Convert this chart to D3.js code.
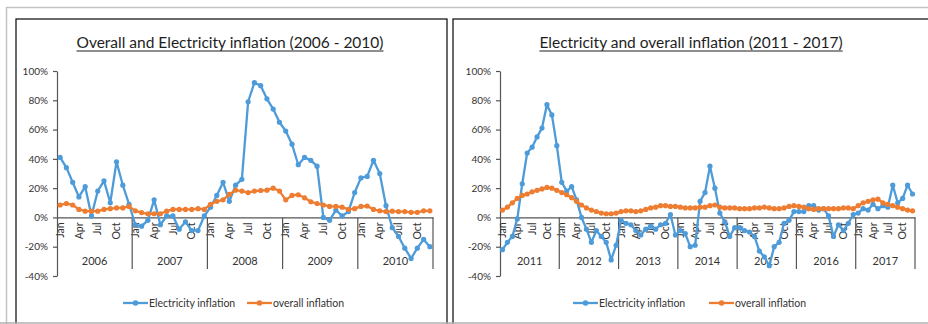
<!DOCTYPE html>
<html>
<head>
<meta charset="utf-8">
<script src="https://cdn.jsdelivr.net/npm/d3@7"></script>
<style>
body { margin: 0; background: #fff; }
svg text { font-family: Lato, "Open Sans", sans-serif; }
</style>
</head>
<body>
<div id="chart"></div>
<script>
//------------------------------ data ------------------------------
var months = ["Jan","Feb","Mar","Apr","May","Jun","Jul","Aug","Sep","Oct","Nov","Dec"];
var yTicks = [-40, -20, 0, 20, 40, 60, 80, 100];
var seriesNames = ["Electricity inflation", "overall inflation"];

var yearsA = ["2006","2007","2008","2009","2010"];
var elecA = [
	41, 34, 24, 14, 21, 1, 18, 25, 10, 38, 22, 9,
	-5, -6, -2, 12, -5, 1, 1, -8, -3, -9, -9, 1,
	7, 15, 24, 11, 22, 26, 79, 92, 90, 81, 74, 65,
	59, 50, 36, 41, 39, 35, 0, -2, 5, 1, 4, 17,
	27, 28, 39, 30, 8, -7, -13, -21, -28, -21, -15, -20
];
var overallA = [
	8.5, 9.5, 8.5, 5.5, 4.3, 4.3, 4.3, 5.5, 6, 6.5, 6.5, 7.5,
	4.5, 3.3, 2.5, 2.5, 2.5, 4.3, 5.5, 5.5, 5.5, 5.5, 6, 5.5,
	9, 11, 12, 15.7, 18.6, 18, 17, 18, 18.4, 18.6, 20, 18,
	12, 15, 15.5, 13.4, 10.7, 9.5, 8.5, 7.5, 7.5, 7, 5.5, 6,
	7.5, 7.8, 5.5, 4.5, 4, 4.3, 4, 4, 3.5, 3.5, 4.5, 4.5
];

var yearsB = ["2011","2012","2013","2014","2015","2016","2017"];
var elecB = [
	-22, -17, -13, -1, 23, 44, 48, 55, 61, 77, 70, 49,
	24, 18, 21, 12, 0, -8, -17, -9, -13, -17, -29, -19,
	-2, -4, -5, -9, -12, -8, -6, -8, -5, -4, 2, -12,
	-9, -11, -20, -19, 11, 17, 35, 20, 3, -3, -13, -7,
	-7, -9, -10, -13, -23, -27, -33, -20, -17, -4, -2, 4,
	4, 4, 8, 8, 5, 6, 1, -13, -5, -9, -4, 2,
	3, 6, 5, 9, 6, 8, 7, 22, 10, 13, 22, 16
];
var overallB = [
	5, 7, 10, 13, 15, 16, 17.5, 18.5, 19.5, 20.5, 20, 18.5,
	17, 15.5, 13.5, 11, 8.5, 6.5, 5, 4, 3, 2.5, 2.5, 3,
	4, 4.5, 4.5, 4, 4.5, 5.5, 6.5, 7, 8, 8, 7.5, 7.5,
	7, 6.5, 6.5, 6.5, 7, 7, 8, 8.5, 7, 6.5, 6.5, 6.5,
	6, 6, 6, 6.5, 6.5, 7, 6.5, 6, 6, 6.5, 7.5, 8,
	7.5, 7, 6, 5.5, 6, 6, 6, 6, 6, 6.5, 6.5, 6,
	8, 10, 11, 12, 12.5, 10, 9, 8, 7, 6, 5, 4.5
];

var colors = ["#4e9bd9", "#ee7d31"];
var textColor = "#333";

//------------------------------ svg ------------------------------
var width = 928, height = 324;
var svg = d3.select("#chart").append("svg")
	.attr("width", width)
	.attr("height", height);

svg.append("rect").attr("width", width).attr("height", height).style("fill", "#fff");

// outer frame of the screenshot
svg.append("path")
	.attr("d", "M6.5,330 V7.5 H928")
	.style("fill", "none").style("stroke", "#c4c4c4").style("stroke-width", 1.5);

var y = d3.scaleLinear().domain([-40, 100]).range([276, 71]);

function drawPanel(cfg) {
	var g = svg.append("g");

	// panel border
	g.append("rect")
		.attr("x", cfg.box[0]).attr("y", cfg.box[1])
		.attr("width", cfg.box[2]).attr("height", cfg.box[3])
		.style("fill", "#fff").style("stroke", "#1a1a1a").style("stroke-width", 1.3);

	// title
	var title = g.append("text")
		.attr("x", cfg.titleX).attr("y", 48)
		.attr("text-anchor", "middle")
		.style("font-size", "15.5px")
		.style("fill", "#1e1e1e")
		.text(cfg.title);
	var tw = title.node().getComputedTextLength();
	g.append("line")
		.attr("x1", cfg.titleX - tw / 2).attr("x2", cfg.titleX + tw / 2)
		.attr("y1", 51).attr("y2", 51)
		.style("stroke", "#1e1e1e").style("stroke-width", 1);

	var n = cfg.years.length * 12;
	var x = d3.scaleBand().domain(d3.range(n)).range([cfg.x0, cfg.x1]).padding(0);
	var xYear = d3.scaleBand().domain(cfg.years).range([cfg.x0, cfg.x1]).padding(0);
	var cx = function(i) { return x(i) + x.bandwidth() / 2; };

	// y axis
	var yAxis = g.append("g")
		.attr("transform", "translate(" + cfg.x0 + ",0)")
		.call(d3.axisLeft(y).tickValues(yTicks).tickFormat(function(d) { return d + "%"; })
			.tickSize(4).tickSizeOuter(0).tickPadding(5));
	yAxis.selectAll("path,line").style("stroke", "#555").style("stroke-width", 1.2);
	yAxis.selectAll("text").style("font-size", "10px").style("fill", textColor);

	// month axis at 0%
	var mAxis = g.append("g")
		.attr("transform", "translate(0," + y(0) + ")")
		.call(d3.axisBottom(x)
			.tickValues(d3.range(0, n, 3))
			.tickFormat(function(i) { return months[i % 12]; })
			.tickSize(0).tickSizeOuter(0));
	mAxis.select(".domain").style("stroke", "#555").style("stroke-width", 1.2);
	mAxis.selectAll("text")
		.attr("transform", "rotate(-90)")
		.attr("x", -5).attr("y", 0).attr("dy", "0.35em")
		.style("text-anchor", "end")
		.style("font-size", "10.5px").style("fill", textColor);

	// year dividers
	var bounds = cfg.years.map(function(d) { return xYear(d); }).concat([cfg.x1]);
	g.selectAll(".yearDiv")
		.data(bounds.slice(1))
		.enter().append("line")
		.attr("class", "yearDiv")
		.attr("x1", function(d) { return d; }).attr("x2", function(d) { return d; })
		.attr("y1", y(0)).attr("y2", 269)
		.style("stroke", "#555").style("stroke-width", 1.2);

	// year labels
	var yrAxis = g.append("g")
		.attr("transform", "translate(0,257)")
		.call(d3.axisBottom(xYear).tickSize(0).tickPadding(0));
	yrAxis.select(".domain").remove();
	yrAxis.selectAll("text").style("font-size", "11px").style("fill", textColor);

	// series
	var line = d3.line().x(function(d, i) { return cx(i); }).y(function(d) { return y(d); });
	[cfg.elec, cfg.overall].forEach(function(vals, k) {
		g.append("path")
			.datum(vals)
			.attr("d", line)
			.style("fill", "none").style("stroke", colors[k]).style("stroke-width", 2.3)
			.style("stroke-linejoin", "round");
		g.selectAll(".dot" + k)
			.data(vals)
			.enter().append("circle")
			.attr("class", "dot" + k)
			.attr("cx", function(d, i) { return cx(i); })
			.attr("cy", function(d) { return y(d); })
			.attr("r", 2.6)
			.style("fill", colors[k]);
	});
	// overall series sits on top of electricity in the reference
	g.selectAll(".dot1").raise();

	// legend
	var lg = g.append("g").attr("transform", "translate(" + cfg.legendX + ",303)");
	seriesNames.forEach(function(name, k) {
		var ox = cfg.legendOff[k];
		lg.append("line")
			.attr("x1", ox).attr("x2", ox + 25).attr("y1", 0).attr("y2", 0)
			.style("stroke", colors[k]).style("stroke-width", 2.3);
		lg.append("circle").attr("cx", ox + 12.5).attr("cy", 0).attr("r", 2.8).style("fill", colors[k]);
		lg.append("text")
			.attr("x", ox + 26).attr("y", 0).attr("dy", "0.35em")
			.style("font-size", "10.5px").style("fill", textColor)
			.text(name);
	});
}

drawPanel({
	box: [16, 19, 431, 312],
	title: "Overall and Electricity inflation (2006 - 2010)",
	titleX: 230,
	years: yearsA, elec: elecA, overall: overallA,
	x0: 57, x1: 433,
	legendX: 123, legendOff: [0, 124]
});

drawPanel({
	box: [453, 19, 480, 312],
	title: "Electricity and overall inflation (2011 - 2017)",
	titleX: 691,
	years: yearsB, elec: elecB, overall: overallB,
	x0: 500, x1: 915,
	legendX: 573, legendOff: [0, 136]
});

// grey bottom edge of the screenshot
svg.append("line")
	.attr("x1", 0).attr("x2", width).attr("y1", 323).attr("y2", 323)
	.style("stroke", "#b0b0b0").style("stroke-width", 1.5);
</script>
</body>
</html>
